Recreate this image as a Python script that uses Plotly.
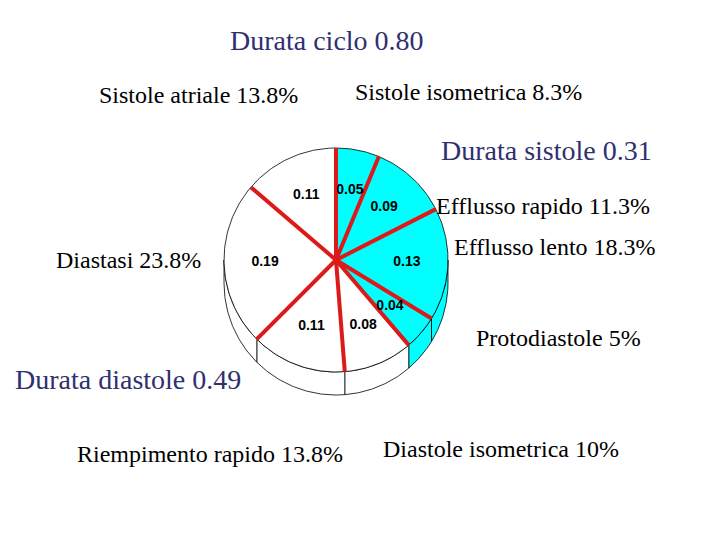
import numpy as np
import plotly.graph_objects as go

# ---- data ----
phases = ["Sistole isometrica", "Efflusso rapido", "Efflusso lento", "Protodiastole",
          "Diastole isometrica", "Riempimento rapido", "Diastasi", "Sistole atriale"]
durations = [0.05, 0.09, 0.13, 0.04, 0.08, 0.11, 0.19, 0.11]
percent_labels = ["8.3%", "11.3%", "18.3%", "5%", "10%", "13.8%", "23.8%", "13.8%"]
is_systole = [True, True, True, True, False, False, False, False]
group_titles = ["Durata ciclo 0.80", "Durata sistole 0.31", "Durata diastole 0.49"]

# ---- layout parameters (pixels) ----
W, H = 720, 540
OFF = 8  # page body margin compensation
cx, cy, R = 336, 260, 112
depth = 23
label_r = 71
phase_pos = [(468, 92), (543, 206), (555, 247), (558, 338),
             (501, 449), (210, 454), (128, 260), (198, 95)]
title_pos = [(327, 40), (546, 150), (128, 379)]

CYAN = "#00FFFF"
RED = "#DD1A1A"
NAVY = "#30306E"

total = sum(durations)
cum = np.concatenate([[0], np.cumsum(durations)])
ang = cum / total * 360.0  # clockwise from top, degrees


def pt(theta_deg, r=R, dy=0.0):
    t = np.radians(theta_deg)
    return cx + r * np.sin(t), cy - r * np.cos(t) + dy


fig = go.Figure()

# side faces (visible between 90 and 270 degrees)
for i in range(len(durations)):
    a0, a1 = max(ang[i], 90), min(ang[i + 1], 270)
    if a1 <= a0:
        continue
    th = np.linspace(a0, a1, 60)
    xt, yt = pt(th)
    xb, yb = pt(th[::-1], dy=depth)
    xs = np.concatenate([xt, xb, xt[:1]])
    ys = np.concatenate([yt, yb, yt[:1]])
    fig.add_trace(go.Scatter(x=xs, y=ys, mode="lines", fill="toself",
                             fillcolor=CYAN if is_systole[i] else "white",
                             line=dict(color="black", width=0.8),
                             hoverinfo="skip", showlegend=False))

# top wedges
for i in range(len(durations)):
    th = np.linspace(ang[i], ang[i + 1], 80)
    xa, ya = pt(th)
    xs = np.concatenate([[cx], xa, [cx]])
    ys = np.concatenate([[cy], ya, [cy]])
    fig.add_trace(go.Scatter(x=xs, y=ys, mode="lines", fill="toself",
                             fillcolor=CYAN if is_systole[i] else "white",
                             line=dict(width=0, color="rgba(0,0,0,0)"),
                             hoverinfo="skip", showlegend=False))

# outline of top
th = np.linspace(0, 360, 361)
xo, yo = pt(th)
fig.add_trace(go.Scatter(x=xo, y=yo, mode="lines", line=dict(color="black", width=0.8),
                         hoverinfo="skip", showlegend=False))

# red separators
lx, ly = [], []
for a in ang[:-1]:
    ex, ey = pt(a)
    lx += [cx, ex, None]
    ly += [cy, ey, None]
fig.add_trace(go.Scatter(x=lx, y=ly, mode="lines", line=dict(color=RED, width=4),
                         hoverinfo="skip", showlegend=False))

# value labels
mids = (ang[:-1] + ang[1:]) / 2
vx, vy = pt(mids, r=label_r)
fig.add_trace(go.Scatter(x=vx, y=vy, mode="text", text=[f"{v:.2f}" for v in durations],
                         textfont=dict(family="Liberation Sans", size=14, color="black", weight="bold"),
                         hoverinfo="skip", showlegend=False))

# phase text
for name, pct, (x, y) in zip(phases, percent_labels, phase_pos):
    fig.add_annotation(x=x, y=y, xref="x", yref="y", text=f"{name} {pct}", showarrow=False,
                       font=dict(family="Liberation Serif", size=24, color="black"))
for t, (x, y) in zip(group_titles, title_pos):
    fig.add_annotation(x=x, y=y, xref="x", yref="y", text=t, showarrow=False,
                       font=dict(family="Liberation Serif", size=28, color=NAVY))

fig.update_layout(width=W, height=H, margin=dict(l=0, r=0, t=0, b=0),
                  paper_bgcolor="white", plot_bgcolor="white",
                  xaxis=dict(range=[OFF, W + OFF], visible=False, fixedrange=True),
                  yaxis=dict(range=[H + OFF, OFF], visible=False, fixedrange=True))
fig.write_html("out.html")
